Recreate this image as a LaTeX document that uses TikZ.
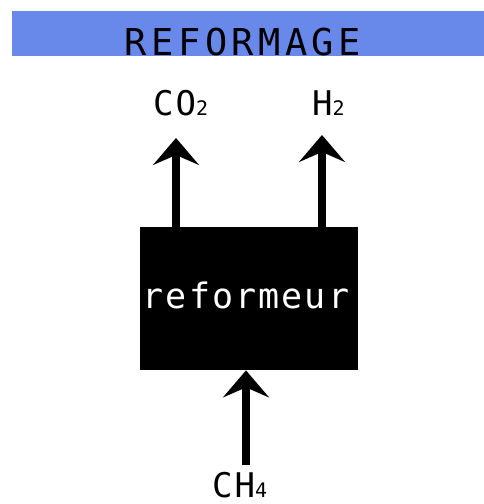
\documentclass[tikz,border=0pt]{standalone}
\usepackage{fontspec}
\usepackage{tikz}
\usetikzlibrary{
  arrows.meta,
  positioning,
  calc
}
\newfontfamily\rfFont{DejaVu Sans Mono}[LetterSpace=6]
\newfontfamily\rfTitleFont{DejaVu Sans Mono}[LetterSpace=12]
\definecolor{rfBanner}{HTML}{6888EA}
\definecolor{rfInk}{HTML}{000000}
\newcommand{\rfSub}[1]{{\fontsize{20}{20}\selectfont #1}}
\tikzset{
  banner/.style={
    fill=rfBanner, draw=none, minimum width=472pt, minimum height=45pt,
    anchor=north west, inner sep=0pt
  },
  bannertext/.style={font=\fontsize{37}{37}\rfTitleFont, text=rfInk, anchor=base, inner sep=0pt},
  reactor/.style={
    fill=rfInk, draw=none, minimum width=218pt, minimum height=143pt,
    anchor=north west, inner sep=0pt
  },
  reactortext/.style={font=\fontsize{35}{35}\rfFont, text=white, anchor=base, inner sep=0pt},
  species/.style={font=\fontsize{34}{34}\rfFont, text=rfInk, anchor=base west, inner sep=0pt},
  flow/.style={-{Stealth[length=27pt, width=46pt, inset=10pt]}, line width=8pt, rfInk}
}

\begin{document}
\begin{tikzpicture}[x=1pt, y=-1pt]
  \useasboundingbox (0,0) rectangle (484,504);
  % title bar
  \node[banner] (bar) at (12,11) {};
  \node[bannertext] (title) at (243,55) {REFORMAGE};
  % reformer unit
  \node[reactor] (box) at (140,227) {};
  \node[reactortext] (boxlabel) at (246,308) {reformeur};
  % products and feed
  \node[species] (co2) at (153,115) {CO\rfSub{2}};
  \node[species] (h2) at (312,115) {H\rfSub{2}};
  \node[species] (ch4) at (212,497) {CH\rfSub{4}};
  \coordinate (co2tip) at (176,138);
  \coordinate (h2tip) at (322,135);
  \coordinate (ch4foot) at (246,465);
  \draw[flow] (box.north -| co2tip) -- (co2tip);
  \draw[flow] (box.north -| h2tip) -- (h2tip);
  \draw[flow] (ch4foot) -- (ch4foot |- box.south);
\end{tikzpicture}
\end{document}
